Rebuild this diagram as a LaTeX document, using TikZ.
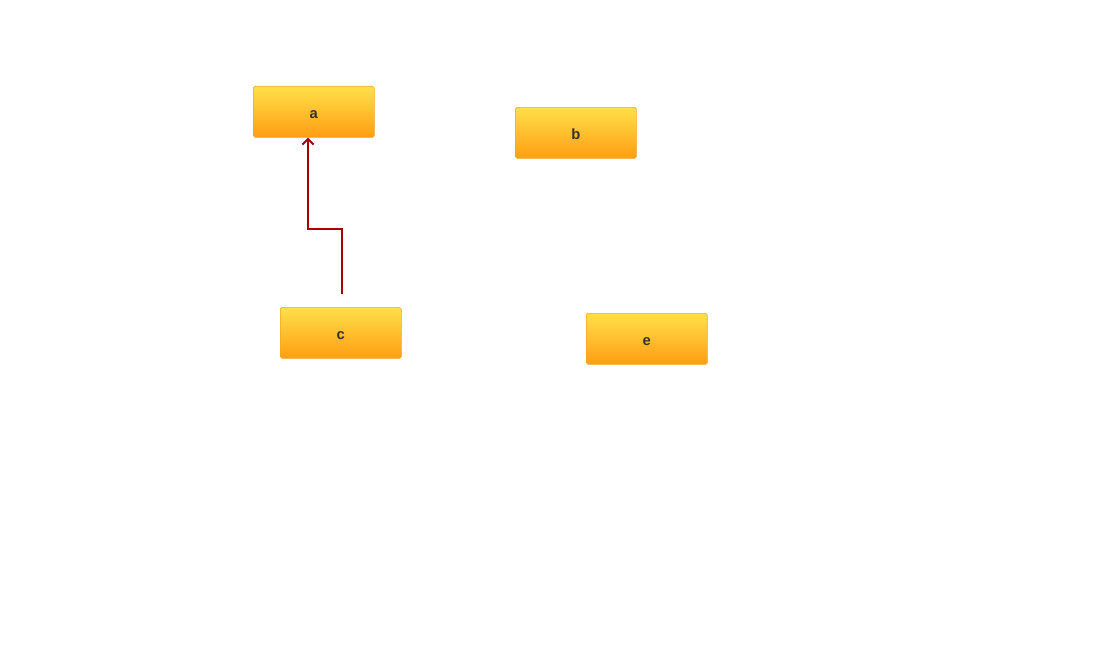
\documentclass[tikz,border=0pt]{standalone}
\usepackage{fontspec}
\setmainfont{Liberation Sans}
\usetikzlibrary{arrows.meta}
\definecolor{boxtop}{HTML}{FFE04A}
\definecolor{boxbottom}{HTML}{FF9E12}
\definecolor{boxline}{HTML}{F5A623}
\definecolor{linkred}{HTML}{AA0000}
\definecolor{labelgray}{HTML}{333333}
\tikzset{
  itembox/.style={anchor=north west, draw=boxline, rounded corners=1.2pt,
    top color=boxtop, bottom color=boxbottom, minimum width=3.025cm,
    minimum height=1.275cm, inner sep=0pt, text=labelgray,
    text height=1.8ex, text depth=0pt,
    font=\fontsize{10.5}{12}\selectfont\bfseries},
  linkline/.style={draw=linkred, line width=1.4pt, -{Straight Barb[length=4pt,width=8pt]}}
}
\begin{document}
\begin{tikzpicture}[x=0.025cm,y=-0.025cm]
    \useasboundingbox (0,0) rectangle (1110,650);

    % Draw the boxes
    \node[itembox] (a) at (253,86) {a};
    \node[itembox] (b) at (515,107) {b};
    \node[itembox] (c) at (280,307) {c};
    \node[itembox] (e) at (586,313) {e};

    % Draw the link
    \coordinate (start) at (342,294);
    \coordinate (bend) at (308,229);
    \draw[linkline] (start) |- (bend) -- (bend |- a.south);
\end{tikzpicture}
\end{document}
